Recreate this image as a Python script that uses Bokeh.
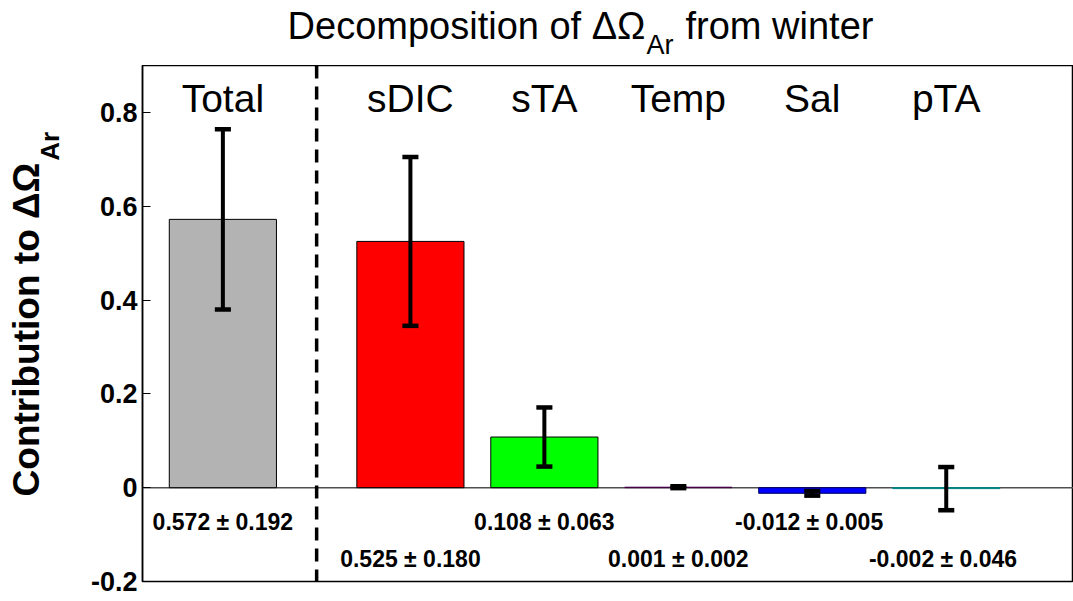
import numpy as np
from bokeh.plotting import figure
from bokeh.layouts import column, row
from bokeh.models import Span, Range1d, FixedTicker
from bokeh.core.properties import value
from bokeh.embed import file_html
from bokeh.resources import INLINE

# ---- data ----
categories = ["Total", "sDIC", "sTA", "Temp", "Sal", "pTA"]
means = [0.572, 0.525, 0.108, 0.001, -0.012, -0.002]
errors = [0.192, 0.180, 0.063, 0.002, 0.005, 0.046]
colors = ["#b3b3b3", "#ff0000", "#00ff00", "#ff00ff", "#0000ff", "#00ffff"]
edge_colors = ["black", "black", "black", "#400040", "#000060", "#008080"]
y_ticks = [-0.2, 0, 0.2, 0.4, 0.6, 0.8]
y_tick_labels = {-0.2: "-0.2", 0: "0", 0.2: "0.2", 0.4: "0.4", 0.6: "0.6", 0.8: "0.8"}
title_parts = ["Decomposition of \u0394\u03a9", "Ar", "from winter"]
ylabel_parts = ["Contribution to \u0394\u03a9", "Ar"]

FONT = "Liberation Sans"
W, H = 1073, 601
TOP = 65          # height of title strip
LEFT = 80         # width of y-label strip
BL = 0.38         # baseline correction (fraction of font size)


def blank(width, height, xr, yr):
    f = figure(width=width, height=height, output_backend="svg", toolbar_location=None,
               x_range=xr, y_range=yr, min_border=0)
    f.min_border_left = f.min_border_right = f.min_border_top = f.min_border_bottom = 0
    f.axis.visible = False
    f.grid.visible = False
    f.outline_line_color = None
    f.background_fill_color = "white"
    f.border_fill_color = "white"
    return f


# ---- title strip (page pixel coordinates, y downward) ----
t = blank(W, TOP, Range1d(0, W), Range1d(TOP, 0))
ts, ss = 38, 27
t.text(x=[645], y=[40 - BL * ts], text=[title_parts[0]], text_align="right",
       text_baseline="alphabetic", text_font=value(FONT), text_font_size=f"{ts}px",
       text_color="black")
t.text(x=[646], y=[55 - BL * ss], text=[title_parts[1]], text_align="left",
       text_baseline="alphabetic", text_font=value(FONT), text_font_size=f"{ss}px",
       text_color="black")
t.text(x=[685], y=[40 - BL * ts], text=[title_parts[2]], text_align="left",
       text_baseline="alphabetic", text_font=value(FONT), text_font_size=f"{ts}px",
       text_color="black")

# ---- y-label strip (page pixel coordinates, y downward) ----
yl = blank(LEFT, H - TOP, Range1d(0, LEFT), Range1d(H, TOP))
ys, yss = 37, 26
yl.text(x=[40 - BL * ys], y=[166], text=[ylabel_parts[0]], angle=np.pi / 2,
        text_align="right", text_baseline="alphabetic", text_font=value(FONT),
        text_font_size=f"{ys}px", text_font_style="bold", text_color="black")
yl.text(x=[59 - BL * yss], y=[164], text=[ylabel_parts[1]], angle=np.pi / 2,
        text_align="left", text_baseline="alphabetic", text_font=value(FONT),
        text_font_size=f"{yss}px", text_font_style="bold", text_color="black")

# ---- main plot ----
xpos = [1.0 + i + (0.4 if i > 0 else 0.0) for i in range(len(categories))]
sep_x = 1.7

p = figure(width=W - LEFT, height=H - TOP, output_backend="svg", toolbar_location=None,
           x_range=Range1d(0.4, 7.35), y_range=Range1d(-0.2, 0.9),
           min_border_left=142 - LEFT, min_border_right=0, min_border_top=0,
           min_border_bottom=20)
p.background_fill_color = "white"
p.border_fill_color = "white"
p.outline_line_color = "black"
p.outline_line_width = 1.5
p.grid.visible = False
p.xaxis.visible = False

ya = p.yaxis[0]
ya.ticker = FixedTicker(ticks=y_ticks)
ya.major_label_overrides = {k: v for k, v in y_tick_labels.items()}
ya.major_label_text_font = FONT
ya.major_label_text_font_style = "bold"
ya.major_label_text_font_size = "27px"
ya.major_label_text_color = "black"
ya.major_tick_in = 8
ya.major_tick_out = 0
ya.minor_tick_in = 0
ya.minor_tick_out = 0
ya.major_label_standoff = 5
ya.axis_line_color = "black"
ya.axis_line_width = 1.5
ya.major_tick_line_color = "black"

# zero line
p.add_layout(Span(location=0, dimension="width", line_color="#505050", line_width=1.5,
                  level="underlay"))

# bars
p.vbar(x=xpos, top=means, bottom=0, width=0.8, fill_color=colors,
       line_color=edge_colors, line_width=1)

# separator
p.add_layout(Span(location=sep_x, dimension="height", line_color="black",
                  line_width=3.5, line_dash="13 8"))

# error bars
lo = [m - e for m, e in zip(means, errors)]
hi = [m + e for m, e in zip(means, errors)]
cap = 0.06
p.segment(x0=xpos, y0=lo, x1=xpos, y1=hi, line_color="black", line_width=4)
p.segment(x0=[x - cap for x in xpos], y0=hi, x1=[x + cap for x in xpos], y1=hi,
          line_color="black", line_width=4.5)
p.segment(x0=[x - cap for x in xpos], y0=lo, x1=[x + cap for x in xpos], y1=lo,
          line_color="black", line_width=4.5)

# pixel -> data helper for vertical offsets in the main frame
px_per_unit = (H - TOP - 20) / (0.9 - (-0.2))

# category labels
cs = 39
p.text(x=xpos, y=[0.798 + BL * cs / px_per_unit] * len(xpos), text=categories,
       text_align="center", text_baseline="alphabetic", text_font=value(FONT),
       text_font_size=f"{cs}px", text_color="black")

# value annotations
as_ = 23
ann = [f"{m:.3f}" + ("  \u00b1 " if m < 0 else " \u00b1 ") + f"{e:.3f}"
       for m, e in zip(means, errors)]
ann_y = [(-0.0915 if i % 2 == 0 else -0.17) + BL * as_ / px_per_unit
         for i in range(len(ann))]
p.text(x=xpos, y=ann_y, text=ann, text_align="center", text_baseline="alphabetic",
       text_font=value(FONT), text_font_size=f"{as_}px", text_font_style="bold",
       text_color="black")

layout = column(t, row(yl, p, spacing=0), spacing=0)
open("out.html", "w").write(file_html(layout, INLINE))
